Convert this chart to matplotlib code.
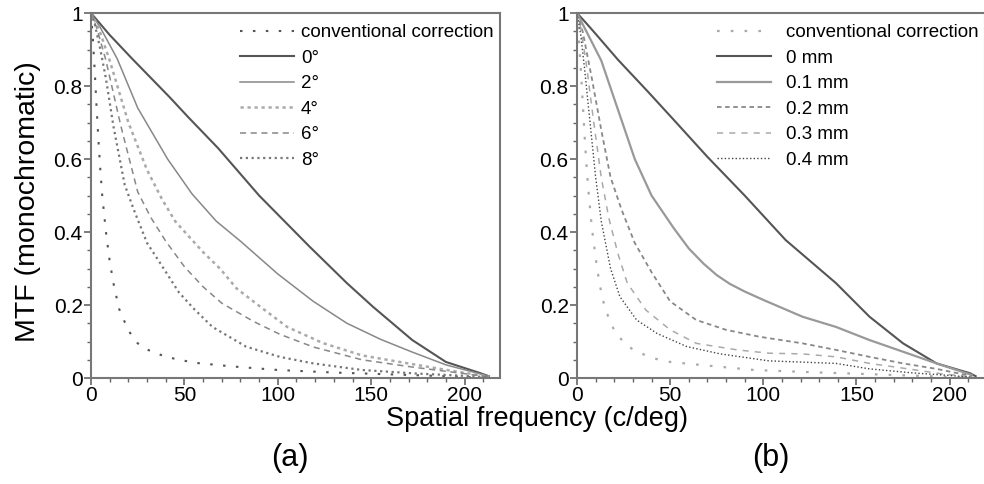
import numpy as np
import matplotlib
matplotlib.use("Agg")
import matplotlib.pyplot as plt
from matplotlib.ticker import MultipleLocator

plt.rcParams['font.family'] = ['Liberation Sans', 'DejaVu Sans']

# (a) eccentricity
conv_a_x = [0, 1, 2, 3, 4, 5, 6, 8, 10, 12, 15, 20, 25, 30, 40, 55, 75, 100, 130, 160, 190, 213]
conv_a_y = [1, 0.93, 0.84, 0.74, 0.65, 0.57, 0.5, 0.4, 0.32, 0.26, 0.19, 0.13, 0.095, 0.078, 0.058, 0.042, 0.032, 0.022, 0.015, 0.01, 0.005, 0]
deg0_x = [0, 5, 10, 22, 42, 52, 68, 90, 117, 137, 151, 172, 190, 208, 213]
deg0_y = [1, 0.97, 0.94, 0.875, 0.77, 0.715, 0.63, 0.5, 0.36, 0.26, 0.195, 0.104, 0.044, 0.014, 0.005]
deg2_x = [0, 5, 14, 25, 41, 54, 67, 80, 90, 100, 119, 137, 155, 172, 190, 213]
deg2_y = [1, 0.96, 0.875, 0.74, 0.6, 0.505, 0.43, 0.375, 0.33, 0.285, 0.21, 0.15, 0.106, 0.071, 0.036, 0.005]
deg4_x = [0, 4, 10, 20, 30, 38, 45, 52, 60, 69, 78, 92, 105, 124, 145, 172, 195, 213]
deg4_y = [1, 0.96, 0.87, 0.7, 0.57, 0.49, 0.43, 0.39, 0.345, 0.3, 0.245, 0.19, 0.14, 0.096, 0.062, 0.038, 0.018, 0.004]
deg6_x = [0, 3, 8, 16, 25, 32, 40, 50, 60, 70, 87, 101, 119, 145, 172, 200, 213]
deg6_y = [1, 0.96, 0.87, 0.69, 0.51, 0.44, 0.375, 0.305, 0.25, 0.205, 0.155, 0.12, 0.085, 0.05, 0.03, 0.012, 0.003]
deg8_x = [0, 2, 5, 8, 12, 18, 23, 30, 37, 47, 55, 65, 83, 101, 119, 145, 175, 200, 213]
deg8_y = [1, 0.97, 0.9, 0.82, 0.69, 0.53, 0.46, 0.37, 0.315, 0.235, 0.19, 0.14, 0.086, 0.058, 0.04, 0.022, 0.012, 0.006, 0.002]

# (b) defocus
conv_b_x = [0, 1, 2, 3, 4, 5, 6, 8, 10, 12, 15, 20, 25, 30, 40, 50, 70, 95, 125, 160, 190, 213]
conv_b_y = [1, 0.93, 0.85, 0.76, 0.67, 0.59, 0.52, 0.41, 0.33, 0.26, 0.19, 0.13, 0.098, 0.078, 0.055, 0.044, 0.034, 0.022, 0.016, 0.01, 0.005, 0]
mm0_x = [0, 5, 10, 22, 38, 52, 70, 90, 112, 139, 157, 175, 193, 211, 214]
mm0_y = [1, 0.972, 0.943, 0.872, 0.785, 0.707, 0.606, 0.5, 0.378, 0.26, 0.168, 0.095, 0.04, 0.013, 0.005]
mm1_x = [0, 5, 13, 22, 31, 40, 52, 60, 68, 75, 82, 90, 100, 121, 139, 157, 175, 193, 212]
mm1_y = [1, 0.95, 0.87, 0.735, 0.6, 0.5, 0.41, 0.355, 0.313, 0.282, 0.258, 0.237, 0.214, 0.168, 0.14, 0.104, 0.072, 0.04, 0.008]
mm2_x = [0, 3, 8, 13, 18, 24, 31, 40, 50, 64, 80, 98, 121, 139, 157, 175, 193, 212]
mm2_y = [1, 0.95, 0.82, 0.68, 0.55, 0.46, 0.37, 0.29, 0.21, 0.159, 0.132, 0.113, 0.095, 0.077, 0.058, 0.04, 0.025, 0.005]
mm3_x = [0, 2, 5, 9, 13, 17, 22, 27, 37, 50, 64, 86, 103, 121, 139, 157, 175, 195, 212]
mm3_y = [1, 0.96, 0.86, 0.7, 0.55, 0.44, 0.34, 0.26, 0.186, 0.132, 0.095, 0.077, 0.068, 0.066, 0.058, 0.04, 0.027, 0.012, 0.003]
mm4_x = [0, 2, 4, 7, 10, 13, 18, 23, 32, 43, 59, 77, 103, 139, 157, 180, 200, 212]
mm4_y = [1, 0.94, 0.85, 0.7, 0.55, 0.43, 0.3, 0.223, 0.159, 0.122, 0.086, 0.066, 0.047, 0.04, 0.025, 0.014, 0.007, 0.002]

fig = plt.figure(figsize=(9.84, 4.84), dpi=100)
axa = fig.add_axes([0.0925, 0.219, 0.4157, 0.754])
axb = fig.add_axes([0.5864, 0.219, 0.4146, 0.754])

axa.plot(conv_a_x, conv_a_y, color='#555555', lw=1.5, ls=(0, (1.2, 5)), label='conventional correction')
axa.plot(deg0_x, deg0_y, color='#555555', lw=1.5, label='0°')
axa.plot(deg2_x, deg2_y, color='#888888', lw=1.1, label='2°')
axa.plot(deg4_x, deg4_y, color='#aaaaaa', lw=1.8, ls=(0, (1.3, 1.5)), label='4°')
axa.plot(deg6_x, deg6_y, color='#888888', lw=1.1, ls=(0, (4, 3)), label='6°')
axa.plot(deg8_x, deg8_y, color='#777777', lw=1.6, ls=(0, (1, 1.6)), label='8°')

axb.plot(conv_b_x, conv_b_y, color='#aaaaaa', lw=1.6, ls=(0, (1.2, 5)), label='conventional correction')
axb.plot(mm0_x, mm0_y, color='#555555', lw=1.5, label='0 mm')
axb.plot(mm1_x, mm1_y, color='#999999', lw=1.6, label='0.1 mm')
axb.plot(mm2_x, mm2_y, color='#888888', lw=1.3, ls=(0, (2.5, 2)), label='0.2 mm')
axb.plot(mm3_x, mm3_y, color='#aaaaaa', lw=1.1, ls=(0, (4, 4)), label='0.3 mm')
axb.plot(mm4_x, mm4_y, color='#444444', lw=1.0, ls=(0, (1, 1.6)), label='0.4 mm')

for ax in (axa, axb):
    ax.set_xlim(0, 219)
    ax.set_ylim(0, 1)
    ax.xaxis.set_major_locator(MultipleLocator(50))
    ax.xaxis.set_minor_locator(MultipleLocator(10))
    ax.yaxis.set_minor_locator(MultipleLocator(0.05))
    ax.set_yticks([0, 0.2, 0.4, 0.6, 0.8, 1])
    ax.set_yticklabels(['0', '0.2', '0.4', '0.6', '0.8', '1'])
    ax.tick_params(which='both', direction='out', color='#666666', top=False, right=False,
                   labelsize=15, pad=1)
    ax.tick_params(which='major', length=5, width=1.2)
    ax.tick_params(which='minor', length=3, width=1)
    for s in ax.spines.values():
        s.set_color('#777777')
        s.set_linewidth(1.5)

axa.legend(loc='upper left', frameon=False, fontsize=13.5, handlelength=2.9,
           handletextpad=0.35, labelspacing=0.45, borderpad=0.4,
           bbox_to_anchor=(0.3225, 1.016))
axb.legend(loc='upper left', frameon=False, fontsize=13.5, handlelength=2.9,
           handletextpad=0.8, labelspacing=0.45, borderpad=0.4,
           bbox_to_anchor=(0.3015, 1.016))

fig.text(0.028, 0.583, 'MTF (monochromatic)', rotation=90, ha='center', va='center', fontsize=20.5)
fig.text(0.546, 0.135, 'Spatial frequency (c/deg)', ha='center', va='center', fontsize=19.5)
fig.text(0.295, 0.054, '(a)', ha='center', va='center', fontsize=22)
fig.text(0.783, 0.054, '(b)', ha='center', va='center', fontsize=22)

fig.savefig('out.png', dpi=100)
